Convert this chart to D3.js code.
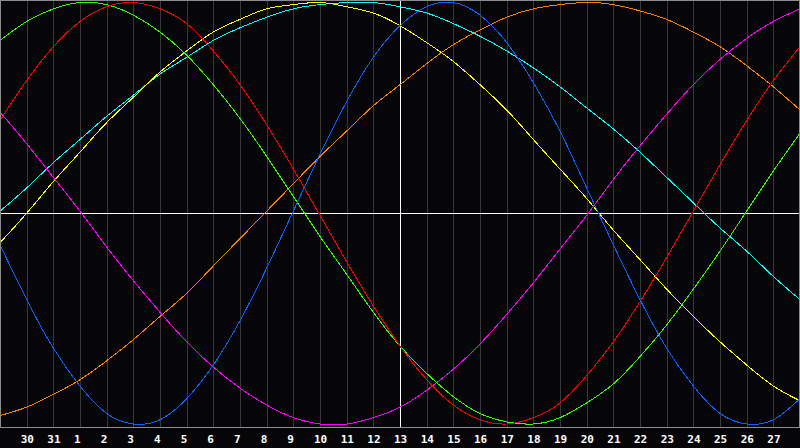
<!DOCTYPE html>
<html>
<head>
<meta charset="utf-8">
<script src="https://cdn.jsdelivr.net/npm/d3@7"></script>
<style>
  html, body { margin: 0; padding: 0; background: #060609; }
  svg { display: block; }
</style>
</head>
<body>
<svg id="chart" width="800" height="448"></svg>
<script>
// Day labels under gridlines (index 1..29 of the 0..30 day span)
const dayLabels = ["30","31","1","2","3","4","5","6","7","8","9","10","11","12","13",
  "14","15","16","17","18","19","20","21","22","23","24","25","26","27"];
const todayLabel = "13";

const seriesBlue    = [-15,-41,-64,-82,-95,-100,-98,-88,-72,-51,-26,1,28,53,74,89,98,100,94,81,62,39,12,-15,-41,-64,-82,-95,-100,-98,-88];
const seriesRed     = [44,63,79,91,98,100,97,90,77,61,42,21,-1,-23,-44,-63,-79,-91,-98,-100,-97,-90,-77,-61,-42,-21,1,23,44,63,79];
const seriesGreen   = [82,91,97,100,99,94,86,75,61,45,27,8,-11,-29,-47,-63,-76,-87,-95,-99,-100,-97,-90,-81,-68,-53,-36,-18,1,20,38];
const seriesMagenta = [48,33,17,1,-16,-32,-47,-61,-73,-83,-91,-97,-100,-100,-97,-92,-84,-74,-62,-48,-33,-17,-1,16,32,47,61,73,83,91,97];
const seriesYellow  = [-14,0,15,29,43,55,67,77,86,92,97,99,100,98,95,89,81,72,61,49,35,21,7,-8,-22,-36,-49,-61,-72,-82,-89];
const seriesOrange  = [-96,-92,-86,-79,-70,-60,-49,-38,-25,-12,1,14,27,39,51,61,71,80,87,93,97,99,100,99,96,92,86,79,70,60,49];
const seriesCyan    = [1,12,24,35,46,56,66,74,82,88,93,97,99,100,100,98,95,90,84,77,69,60,50,40,29,17,5,-7,-18,-30,-41];

const series = [
  { name: "orange",  values: seriesOrange,  color: "#ff8000" },
  { name: "cyan",    values: seriesCyan,    color: "#00ffff" },
  { name: "yellow",  values: seriesYellow,  color: "#ffff00" },
  { name: "magenta", values: seriesMagenta, color: "#ff00ff" },
  { name: "green",   values: seriesGreen,   color: "#33ff00" },
  { name: "red",     values: seriesRed,     color: "#ff0000" },
  { name: "blue",    values: seriesBlue,    color: "#0a64ff" }
];

const svg = d3.select("#chart");
const W = 800, H = 448, plotBottom = 427;

const x = d3.scaleLinear().domain([0, 30]).range([0, W]);
const y = d3.scaleLinear().domain([-100, 100]).range([424, 2.5]);

svg.append("rect").attr("x", 0).attr("y", 0).attr("width", W).attr("height", H).attr("fill", "#060609");

// vertical gridlines
const gridIdx = d3.range(1, 30);
svg.append("g").selectAll("line").data(gridIdx).join("line")
  .attr("x1", d => Math.round(x(d)) + 0.5).attr("x2", d => Math.round(x(d)) + 0.5)
  .attr("y1", 0).attr("y2", plotBottom)
  .attr("stroke", "#383838").attr("stroke-width", 1).attr("shape-rendering", "crispEdges");

// today marker and zero line
const todayIdx = dayLabels.indexOf(todayLabel) + 1;
svg.append("line")
  .attr("x1", Math.round(x(todayIdx)) + 0.5).attr("x2", Math.round(x(todayIdx)) + 0.5)
  .attr("y1", 0).attr("y2", plotBottom)
  .attr("stroke", "#ffffff").attr("shape-rendering", "crispEdges");
svg.append("line")
  .attr("x1", 0).attr("x2", W)
  .attr("y1", Math.round(y(0)) + 0.5).attr("y2", Math.round(y(0)) + 0.5)
  .attr("stroke", "#ffffff").attr("shape-rendering", "crispEdges");

// curves
const line = d3.line()
  .x((d, i) => x(i))
  .y(d => y(d))
  .curve(d3.curveNatural);

svg.append("g").selectAll("path").data(series).join("path")
  .attr("d", d => line(d.values))
  .attr("fill", "none")
  .attr("stroke", d => d.color)
  .attr("stroke-width", 1)
  .attr("shape-rendering", "crispEdges");

// frame
svg.append("rect")
  .attr("x", 0.5).attr("y", 0.5).attr("width", W - 1).attr("height", plotBottom)
  .attr("fill", "none").attr("stroke", "#8c8c8c").attr("shape-rendering", "crispEdges");

// day labels
svg.append("g").selectAll("text").data(dayLabels).join("text")
  .attr("x", (d, i) => x(i + 1) - 6)
  .attr("y", 443)
  .attr("fill", "#ffffff")
  .attr("font-family", "'DejaVu Sans Mono', monospace")
  .attr("font-weight", "bold")
  .attr("font-size", "11px")
  .text(d => d);
</script>
</body>
</html>
